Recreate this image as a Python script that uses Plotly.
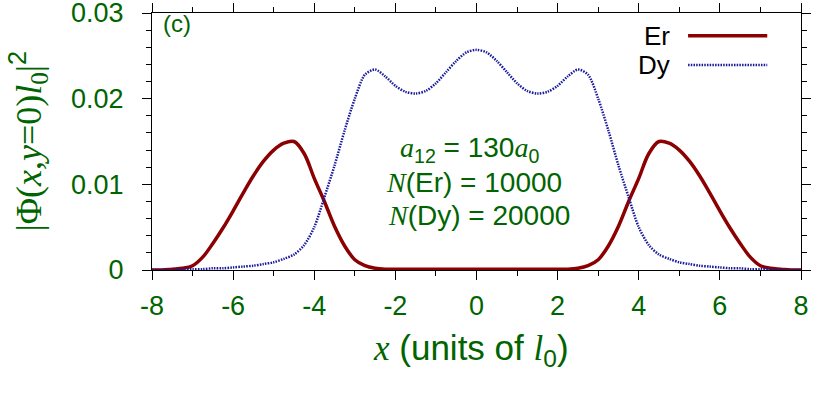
import plotly.graph_objects as go

x_vals = [-8.0, -7.75, -7.5, -7.25, -7.0, -6.75, -6.5, -6.25, -6.0, -5.75, -5.5, -5.25,
          -5.0, -4.75, -4.5, -4.25, -4.0, -3.75, -3.5, -3.25, -3.0, -2.75, -2.5, -2.25,
          -2.0, -1.75, -1.5, -1.25, -1.0, -0.75, -0.5, -0.25, 0.0, 0.25, 0.5, 0.75,
          1.0, 1.25, 1.5, 1.75, 2.0, 2.25, 2.5, 2.75, 3.0, 3.25, 3.5, 3.75, 4.0, 4.25,
          4.5, 4.75, 5.0, 5.25, 5.5, 5.75, 6.0, 6.25, 6.5, 6.75, 7.0, 7.25, 7.5, 7.75, 8.0]

er_vals = [0.0000, 0.0000, 0.0001, 0.0002, 0.0005, 0.0015, 0.0031, 0.0049, 0.0069, 0.0090,
           0.0110, 0.0127, 0.0140, 0.0148, 0.0150, 0.0136, 0.0107, 0.0080, 0.0051, 0.0028,
           0.0012, 0.0005, 0.0002, 0.0001,
           0.0001, 0.0001, 0.0001, 0.0001, 0.0001, 0.0001, 0.0001, 0.0001, 0.0001, 0.0001,
           0.0001, 0.0001, 0.0001, 0.0001, 0.0001, 0.0001, 0.0001,
           0.0001, 0.0002, 0.0005, 0.0012, 0.0028, 0.0051, 0.0080, 0.0107, 0.0136, 0.0150,
           0.0148, 0.0140, 0.0127, 0.0110, 0.0090, 0.0069, 0.0049, 0.0031, 0.0015, 0.0005,
           0.0002, 0.0001, 0.0000, 0.0000]

dy_vals = [0.0000, 0.0000, 0.0000, 0.0001, 0.0001, 0.0001, 0.0002, 0.0002, 0.0003, 0.0004,
           0.0005, 0.0007, 0.0009, 0.0013, 0.0018, 0.0029, 0.0050, 0.0085, 0.0122, 0.0163,
           0.0200, 0.0228, 0.0234, 0.0226, 0.0215, 0.0208, 0.0206, 0.0209, 0.0218, 0.0231,
           0.0244, 0.0254,
           0.0257,
           0.0254, 0.0244, 0.0231, 0.0218, 0.0209, 0.0206, 0.0208, 0.0215, 0.0226, 0.0234,
           0.0228, 0.0200, 0.0163, 0.0122, 0.0085, 0.0050, 0.0029, 0.0018, 0.0013, 0.0009,
           0.0007, 0.0005, 0.0004, 0.0003, 0.0002, 0.0002, 0.0001, 0.0001, 0.0001, 0.0000,
           0.0000, 0.0000]

series_names = ["Er", "Dy"]
x_tickvals = [-8, -6, -4, -2, 0, 2, 4, 6, 8]
x_ticktext = ["-8", "-6", "-4", "-2", "0", "2", "4", "6", "8"]
y_tickvals = [0, 0.01, 0.02, 0.03]
y_ticktext = ["0", "0.01", "0.02", "0.03"]

GREEN = "#006400"
ER_COLOR = "#8b0000"
DY_COLOR = "#1a1a9c"
SANS = "Liberation Sans, Arial, sans-serif"
SERIF = "Liberation Serif, Times New Roman, serif"

fig = go.Figure()
fig.add_trace(go.Scatter(x=x_vals, y=er_vals, name=series_names[0], mode="lines",
                         line=dict(color=ER_COLOR, width=3.5, shape="spline", smoothing=1.0)))
fig.add_trace(go.Scatter(x=x_vals, y=dy_vals, name=series_names[1], mode="lines",
                         line=dict(color=DY_COLOR, width=2.5, shape="spline", smoothing=0.8,
                                   dash="1.5px,1.2px")))

axis_common = dict(showline=True, linecolor="black", linewidth=1, mirror="ticks",
                   ticks="outside", ticklen=9, tickcolor="black", tickwidth=1,
                   showgrid=False, zeroline=False, automargin=False,
                   ticklabeloverflow="allow",
                   tickfont=dict(family=SANS, size=27, color=GREEN))

fig.update_xaxes(range=[-8, 8], tickvals=x_tickvals, ticktext=x_ticktext,
                 minor=dict(dtick=1, ticks="outside", ticklen=5, tickcolor="black", showgrid=False),
                 ticklabelstandoff=3, **axis_common)
fig.update_yaxes(range=[0, 0.03], tickvals=y_tickvals, ticktext=y_ticktext,
                 minor=dict(dtick=0.002, ticks="outside", ticklen=5, tickcolor="black", showgrid=False),
                 ticklabelstandoff=13, **axis_common)

def serif_i(s):
    return f"<span style='font-family:{SERIF}'><i>{s}</i></span>"

annotations = [
    # axis titles
    dict(text=f"<span style='font-family:{SERIF}'>|Φ(<i>x</i>,<i>y</i>=0)<i>l</i><sub>0</sub>|</span><sup>2</sup>",
         xref="paper", yref="paper", x=-0.191, y=0.5, textangle=-90, showarrow=False,
         font=dict(family=SANS, size=36, color=GREEN), xanchor="center", yanchor="middle"),
    dict(text=f"{serif_i('x')} (units of {serif_i('l')}<sub>0</sub>)",
         xref="paper", yref="paper", x=0.492, y=-0.31, showarrow=False,
         font=dict(family=SANS, size=35, color=GREEN), xanchor="center", yanchor="middle"),
    # panel tag
    dict(text="(c)", xref="paper", yref="paper", x=0.014, y=1.02, showarrow=False,
         font=dict(family=SANS, size=24, color=GREEN), xanchor="left", yanchor="top"),
    # parameter text
    dict(text=f"{serif_i('a')}<sub>12</sub> = 130{serif_i('a')}<sub>0</sub>",
         xref="x", yref="paper", x=-0.17, y=0.468, showarrow=False,
         font=dict(family=SANS, size=28, color=GREEN), xanchor="center", yanchor="middle"),
    dict(text=f"{serif_i('N')}(Er) = 10000",
         xref="x", yref="paper", x=-0.05, y=0.339, showarrow=False,
         font=dict(family=SANS, size=28, color=GREEN), xanchor="center", yanchor="middle"),
    dict(text=f"{serif_i('N')}(Dy) = 20000",
         xref="x", yref="paper", x=0.07, y=0.214, showarrow=False,
         font=dict(family=SANS, size=28, color=GREEN), xanchor="center", yanchor="middle"),
    # legend labels
    dict(text=series_names[0], xref="paper", yref="paper", x=0.801, y=0.911, showarrow=False,
         font=dict(family=SANS, size=26, color="black"), xanchor="right", yanchor="middle"),
    dict(text=series_names[1], xref="paper", yref="paper", x=0.801, y=0.798, showarrow=False,
         font=dict(family=SANS, size=26, color="black"), xanchor="right", yanchor="middle"),
]

shapes = [
    dict(type="line", xref="paper", yref="paper", x0=0.826, x1=0.948, y0=0.911, y1=0.911,
         line=dict(color=ER_COLOR, width=3.5)),
    dict(type="line", xref="paper", yref="paper", x0=0.826, x1=0.948, y0=0.798, y1=0.798,
         line=dict(color=DY_COLOR, width=2.5, dash="1.5px,1.2px")),
]

fig.update_layout(
    width=830, height=396,
    margin=dict(l=152, r=29, t=13, b=126),
    paper_bgcolor="white", plot_bgcolor="white",
    showlegend=False,
    annotations=annotations, shapes=shapes,
)

# remove the default 8px page margin so the figure fills the window exactly
fig.write_html("out.html",
               config={"displayModeBar": False},
               post_script="document.body.style.margin='0';document.body.style.overflow='hidden';")
